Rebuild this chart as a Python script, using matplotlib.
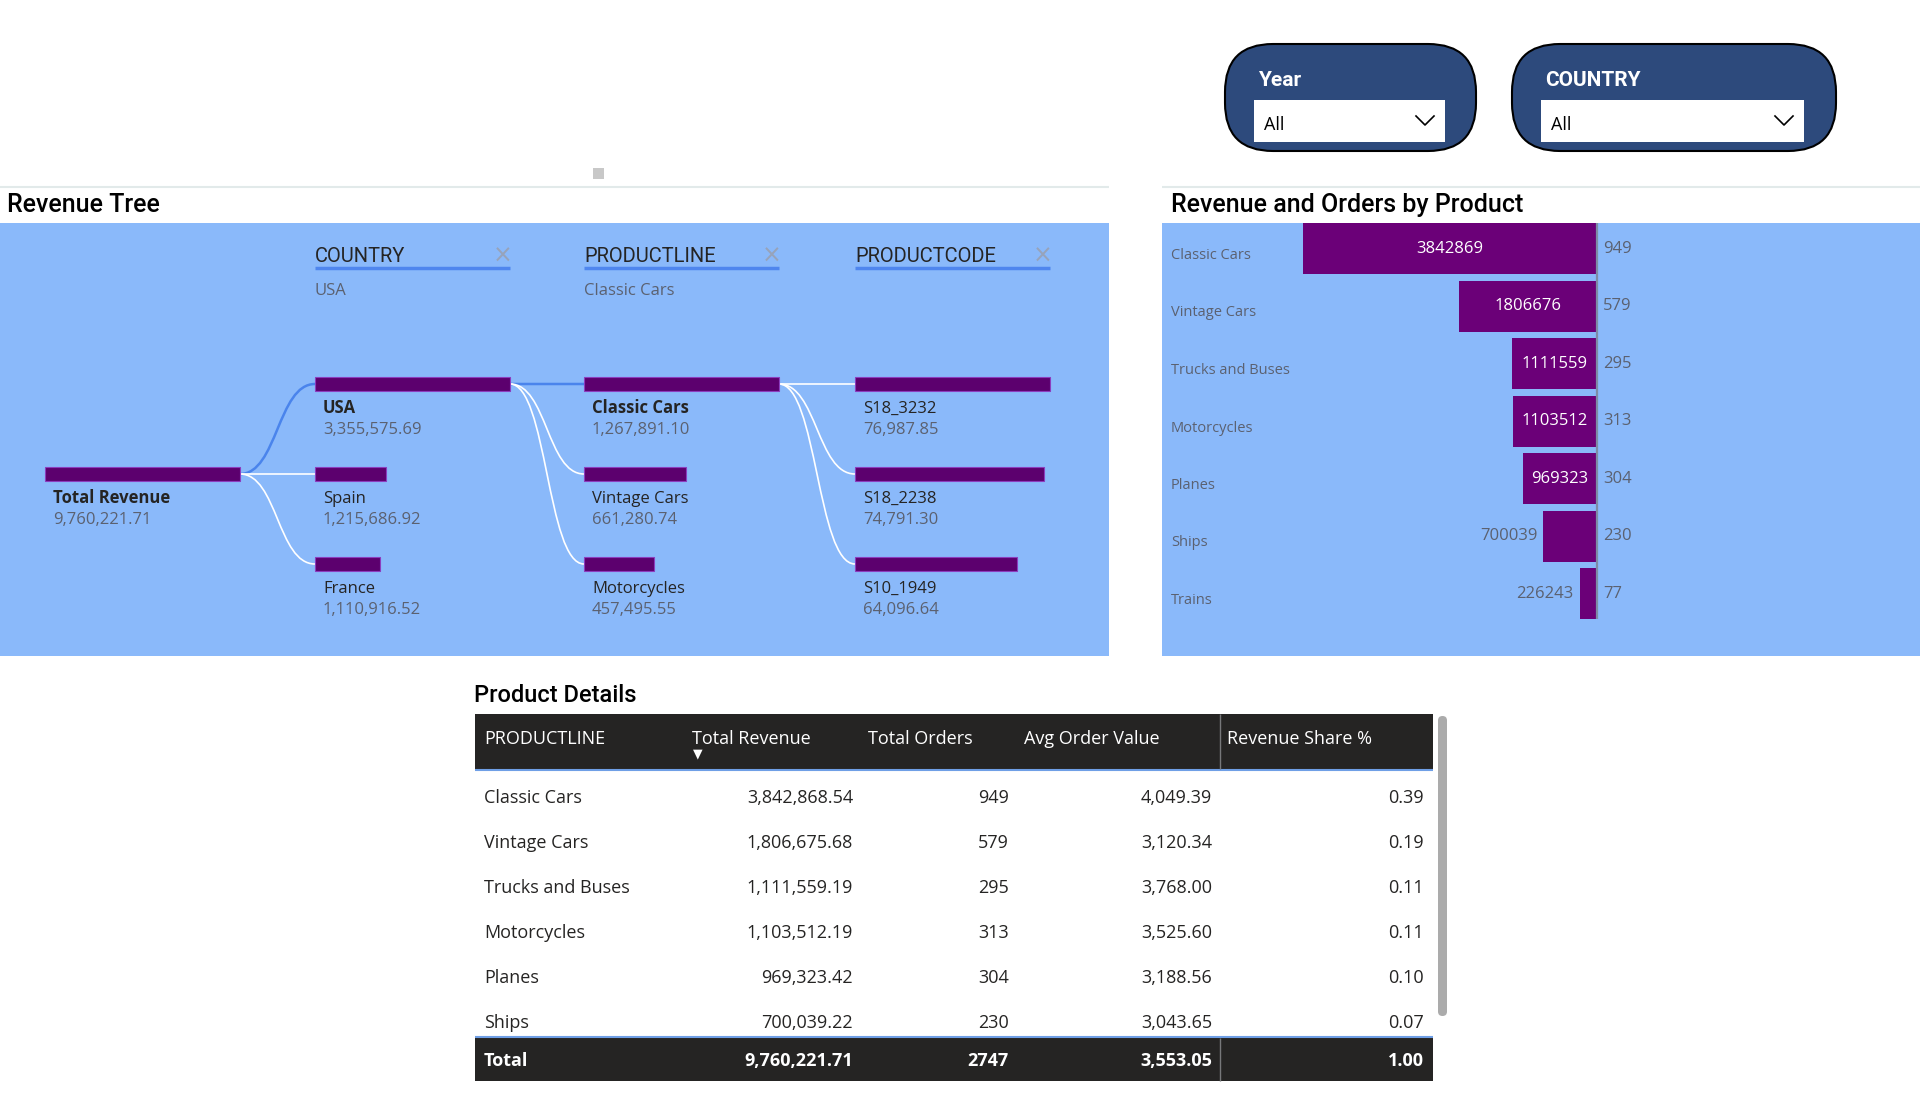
import matplotlib
matplotlib.use("Agg")
import matplotlib.pyplot as plt
from matplotlib.patches import Rectangle, FancyBboxPatch, PathPatch
from matplotlib.path import Path

W, H = 1920, 1095

# ---- data ----
slicer_titles = ["Year", "COUNTRY"]
slicer_values = ["All", "All"]

tree_levels = ["COUNTRY", "PRODUCTLINE", "PRODUCTCODE"]
tree_selected = ["USA", "Classic Cars", ""]
tree_total = 9760221.71
countries = ["USA", "Spain", "France"]
country_rev = [3355575.69, 1215686.92, 1110916.52]
lines = ["Classic Cars", "Vintage Cars", "Motorcycles"]
line_rev = [1267891.10, 661280.74, 457495.55]
codes = ["S18_3232", "S18_2238", "S10_1949"]
code_rev = [76987.85, 74791.30, 64096.64]

products = ["Classic Cars", "Vintage Cars", "Trucks and Buses", "Motorcycles",
            "Planes", "Ships", "Trains"]
prod_rev = [3842868.54, 1806675.68, 1111559.19, 1103512.19, 969323.42,
            700039.22, 226243.47]
prod_orders = [949, 579, 295, 313, 304, 230, 77]
avg_order = [4049.39, 3120.34, 3768.00, 3525.60, 3188.56, 3043.65, 2938.23]
rev_share = [0.39, 0.19, 0.11, 0.11, 0.10, 0.07, 0.02]

table_cols = ["PRODUCTLINE", "Total Revenue", "Total Orders", "Avg Order Value",
              "Revenue Share %"]
n_visible = 6
total_avg = 3553.05
total_share = 1.00

# ---- style ----
PANEL = "#8AB9FA"
BAR = "#6B0078"
TREE_BAR = "#5C006E"
LINK_ON = "#4A84EC"
DARK = "#252423"
GREY = "#5B6170"
SLICER = "#2D4A7C"
BODY = ["Open Sans", "DejaVu Sans"]
HEAD = ["Roboto", "DejaVu Sans"]

fig = plt.figure(figsize=(W / 100, H / 100), dpi=100)
bg = fig.add_axes([0, 0, 1, 1])
bg.set_xlim(0, W)
bg.set_ylim(H, 0)
bg.axis("off")

# ---- slicers ----
for (x0, w, dw), title, val in zip([(1225, 251, 191), (1512, 324, 263)],
                                   slicer_titles, slicer_values):
    bg.add_patch(FancyBboxPatch((x0, 44), w, 107,
                                boxstyle="round,pad=0,rounding_size=48",
                                fc=SLICER, ec="black", lw=1.5))
    bg.text(x0 + 33, 78, title, color="white", fontsize=15, fontweight="bold",
            family=HEAD, va="center_baseline")
    bg.add_patch(Rectangle((x0 + 29, 100), dw, 42, fc="white", ec="none"))
    bg.text(x0 + 39, 123, val, color="black", fontsize=13, family=BODY,
            va="center_baseline")
    cx = x0 + 29 + dw - 20
    bg.plot([cx - 9, cx, cx + 9], [116, 125, 116], color="black", lw=1.2)

# ---- panel frames ----
bg.add_patch(Rectangle((593, 168), 11, 11, fc="#C8C8C8", ec="none"))
bg.hlines(187, 0, 1109, color="#E2EAEA", lw=1.5)
bg.hlines(187, 1162, W, color="#E2EAEA", lw=1.5)
bg.text(7, 212, "Revenue Tree", fontsize=18, fontweight="medium", family=HEAD,
        color="black")
bg.text(1171, 212, "Revenue and Orders by Product", fontsize=18,
        fontweight="medium", family=HEAD, color="black")
bg.add_patch(Rectangle((0, 223), 1109, 433, fc=PANEL, ec="none"))

# ---- decomposition tree ----
level_x = [45, 315, 584, 855]
rows_y = [384, 474, 564]
BAR_W = 195
BAR_H = 14


def link(x0, y0, x1, y1, color, lw):
    mx = (x0 + x1) / 2
    p = Path([(x0, y0), (mx, y0), (mx, y1), (x1, y1)],
             [Path.MOVETO, Path.CURVE4, Path.CURVE4, Path.CURVE4])
    bg.add_patch(PathPatch(p, fill=False, ec=color, lw=lw, zorder=2))


def node(x, y, w, name, value, bold=False):
    bg.barh(y, w, left=x, height=BAR_H, color=TREE_BAR, ec="#8C3DBE",
            lw=0.8, zorder=3)
    bg.text(x + 8, y + 29, name, color=DARK, fontsize=12, family=BODY,
            fontweight="bold" if bold else "normal")
    bg.text(x + 8, y + 50, f"{value:,.2f}", color=GREY, fontsize=12,
            family=BODY)


node(level_x[0], rows_y[1], BAR_W, "Total Revenue", tree_total, bold=True)
levels = [(countries, country_rev), (lines, line_rev), (codes, code_rev)]
parent_x, parent_y, parent_w = level_x[0], rows_y[1], BAR_W
for k, (names, vals) in enumerate(levels):
    x = level_x[k + 1]
    top = max(vals)
    for i, (nm, v) in enumerate(zip(names, vals)):
        w = v / top * BAR_W
        on = (k < 2 and i == 0)
        link(parent_x + parent_w, parent_y, x, rows_y[i],
             LINK_ON if on else "white", 1.8 if on else 1.2)
        node(x, rows_y[i], w, nm, v, bold=on)
    # column header
    bg.text(x, 262, tree_levels[k], color=DARK, fontsize=14.5,
            fontweight="normal", family=HEAD)
    bg.plot([x, x + BAR_W], [268, 268], color="#4F86EE", lw=2.5,
            solid_capstyle="butt")
    bg.text(x + 188, 256, "×", color="#97A3BA", fontsize=17, ha="center",
            va="center", family=["DejaVu Sans"])
    if tree_selected[k]:
        bg.text(x, 295, tree_selected[k], color=GREY, fontsize=12, family=BODY)
    parent_x, parent_y = x, rows_y[0]
    parent_w = vals[0] / top * BAR_W

# ---- revenue / orders bar chart ----
ax = fig.add_axes([1162 / W, 1 - 656 / H, (W - 1162) / W, (656 - 223) / H])
ax.set_facecolor(PANEL)
axis_px, max_px, row0, step = 1597, 294, 248.6, 57.5
scale = max_px / max(prod_rev)
ax.set_xlim((axis_px - 1162) / scale, -(W - axis_px) / scale)
ax.set_ylim((656 - row0) / step, (223 - row0) / step)
for s in ax.spines.values():
    s.set_visible(False)
ax.set_xticks([])
ax.set_yticks([])
idx = list(range(len(products)))
ax.barh(idx, prod_rev, height=0.89, color=BAR)
ax.vlines(0, (223 - row0) / step, len(products) - 1 + 0.445,
          color="#7D8CA6", lw=1.6)
ytr = ax.get_yaxis_transform()
for i, (nm, v, o) in enumerate(zip(products, prod_rev, prod_orders)):
    ax.text(0.012, i + 0.12, nm, transform=ytr, color=GREY, fontsize=10.5,
            family=BODY, va="center")
    lbl = f"{round(v)}"
    if v * scale > 62:
        ax.text(v / 2, i, lbl, color="white", fontsize=12, family=BODY,
                ha="center", va="center")
    else:
        ax.annotate(lbl, (v, i), xytext=(-6, 0),
                    textcoords="offset pixels", color=GREY, fontsize=12,
                    family=BODY, ha="right", va="center")
    ax.annotate(f"{o}", (0, i), xytext=(6, 0),
                textcoords="offset pixels", color=GREY, fontsize=12,
                family=BODY, ha="left", va="center")

# ---- product details table ----
bg.text(474, 702, "Product Details", fontsize=17, fontweight="medium",
        family=HEAD, color="black")
tx0, tx1 = 475, 1433
bg.add_patch(Rectangle((tx0, 714), tx1 - tx0, 55, fc=DARK, ec="none"))
bg.hlines(770, tx0, tx1, color="#6F9FE6", lw=1.5)
bg.add_patch(Rectangle((tx0, 1037), tx1 - tx0, 44, fc=DARK, ec="none"))
bg.hlines(1037, tx0, tx1, color="#6F9FE6", lw=1.5)
bg.vlines(1220, 714, 769, color="#77787A", lw=1)
bg.vlines(1220, 1038, 1081, color="#77787A", lw=1)
bg.add_patch(FancyBboxPatch((1438, 716), 9, 300,
                            boxstyle="round,pad=0,rounding_size=4.5",
                            fc="#ABABAB", ec="none"))

head_x = [484, 692, 868, 1024, 1227]
for hx, c in zip(head_x, table_cols):
    bg.text(hx, 737, c, color="white", fontsize=13, family=BODY,
            va="center_baseline")
bg.text(698, 754, "▼", color="white", fontsize=9, ha="center", va="center",
        family=["DejaVu Sans"])

right_x = [853, 1009, 1212, 1424]
row_y = [796, 841, 886, 931, 976, 1021]
for i in range(n_visible):
    y = row_y[i]
    cells = [f"{prod_rev[i]:,.2f}", f"{prod_orders[i]}", f"{avg_order[i]:,.2f}",
             f"{rev_share[i]:.2f}"]
    bg.text(484, y, products[i], color=DARK, fontsize=13, family=BODY,
            va="center_baseline")
    for rx, c in zip(right_x, cells):
        bg.text(rx, y, c, color=DARK, fontsize=13, family=BODY, ha="right",
                va="center_baseline")

totals = [f"{sum(prod_rev):,.2f}", f"{sum(prod_orders)}", f"{total_avg:,.2f}",
          f"{total_share:.2f}"]
bg.text(484, 1059, "Total", color="white", fontsize=13, fontweight="bold",
        family=BODY, va="center_baseline")
for rx, c in zip(right_x, totals):
    bg.text(rx, 1059, c, color="white", fontsize=13, fontweight="bold",
            family=BODY, ha="right", va="center_baseline")

fig.savefig("out.png", dpi=100, facecolor="white")
